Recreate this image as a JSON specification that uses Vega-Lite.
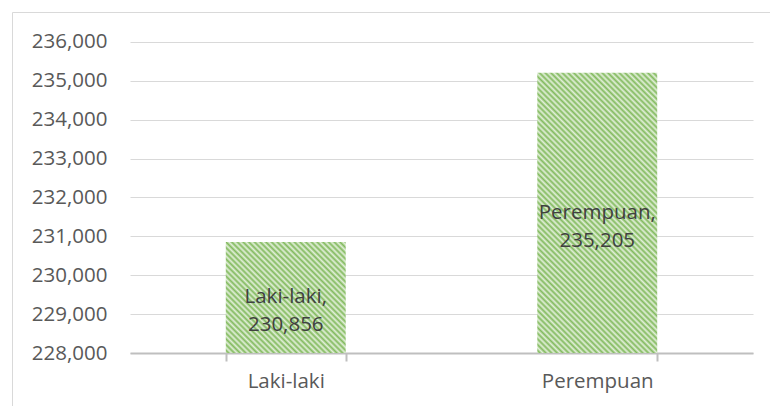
{
  "$schema": "https://vega.github.io/schema/vega-lite/v6.json",
  "autosize": "none",
  "width": 758,
  "height": 394,
  "padding": {"left": 12, "top": 12, "right": 0, "bottom": 0},
  "background": "white",
  "config": {"view": {"stroke": "#d9d9d9", "strokeWidth": 1}},
  "data": {"values": [
    {"jenis": "Laki-laki", "jumlah": 230856, "label": ["Laki-laki,", "230,856"]},
    {"jenis": "Perempuan", "jumlah": 235205, "label": ["Perempuan,", "235,205"]}
  ]},
  "encoding": {
    "x": {"field": "jenis", "type": "nominal", "sort": null,
      "scale": {"range": [118, 741], "paddingInner": 0.615, "paddingOuter": 0.3075},
      "axis": {"title": null, "labelAngle": 0, "offset": -53, "domainColor": "#bfbfbf", "domainWidth": 2,
        "tickColor": "#bfbfbf", "tickWidth": 2, "tickSize": 8, "tickBand": "extent", "labelPadding": 10,
        "labelFont": "Open Sans", "labelFontSize": 20.5, "labelColor": "#595959", "grid": false}},
    "y": {"field": "jumlah", "type": "quantitative",
      "scale": {"domain": [228000, 236000], "range": [341, 29.8], "nice": false, "zero": false},
      "axis": {"title": null, "values": [228000, 229000, 230000, 231000, 232000, 233000, 234000, 235000, 236000],
        "format": ",d", "offset": -118, "domain": false, "ticks": false, "labelPadding": 23,
        "gridColor": "#d9d9d9", "gridWidth": 1, "labelFont": "Open Sans", "labelFontSize": 20.5, "labelColor": "#595959"}}
  },
  "layer": [
    {
      "transform": [{"filter": "datum.jenis === 'Laki-laki'"}],
      "encoding": {"y2": {"datum": 228000}},
      "mark": {"type": "bar", "color": {"gradient": "linear", "x1": 0, "y1": 1, "x2": 1.28, "y2": -0.184, "stops": [
        {"offset":0,"color":"#e2efd9"},{"offset":0.01,"color":"#82ba5e"},{"offset":0.02,"color":"#e2efd9"},{"offset":0.03,"color":"#82ba5e"},{"offset":0.04,"color":"#e2efd9"},{"offset":0.05,"color":"#82ba5e"},{"offset":0.06,"color":"#e2efd9"},{"offset":0.07,"color":"#82ba5e"},{"offset":0.08,"color":"#e2efd9"},{"offset":0.09,"color":"#82ba5e"},
        {"offset":0.1,"color":"#e2efd9"},{"offset":0.11,"color":"#82ba5e"},{"offset":0.12,"color":"#e2efd9"},{"offset":0.13,"color":"#82ba5e"},{"offset":0.14,"color":"#e2efd9"},{"offset":0.15,"color":"#82ba5e"},{"offset":0.16,"color":"#e2efd9"},{"offset":0.17,"color":"#82ba5e"},{"offset":0.18,"color":"#e2efd9"},{"offset":0.19,"color":"#82ba5e"},
        {"offset":0.2,"color":"#e2efd9"},{"offset":0.21,"color":"#82ba5e"},{"offset":0.22,"color":"#e2efd9"},{"offset":0.23,"color":"#82ba5e"},{"offset":0.24,"color":"#e2efd9"},{"offset":0.25,"color":"#82ba5e"},{"offset":0.26,"color":"#e2efd9"},{"offset":0.27,"color":"#82ba5e"},{"offset":0.28,"color":"#e2efd9"},{"offset":0.29,"color":"#82ba5e"},
        {"offset":0.3,"color":"#e2efd9"},{"offset":0.31,"color":"#82ba5e"},{"offset":0.32,"color":"#e2efd9"},{"offset":0.33,"color":"#82ba5e"},{"offset":0.34,"color":"#e2efd9"},{"offset":0.35,"color":"#82ba5e"},{"offset":0.36,"color":"#e2efd9"},{"offset":0.37,"color":"#82ba5e"},{"offset":0.38,"color":"#e2efd9"},{"offset":0.39,"color":"#82ba5e"},
        {"offset":0.4,"color":"#e2efd9"},{"offset":0.41,"color":"#82ba5e"},{"offset":0.42,"color":"#e2efd9"},{"offset":0.43,"color":"#82ba5e"},{"offset":0.44,"color":"#e2efd9"},{"offset":0.45,"color":"#82ba5e"},{"offset":0.46,"color":"#e2efd9"},{"offset":0.47,"color":"#82ba5e"},{"offset":0.48,"color":"#e2efd9"},{"offset":0.49,"color":"#82ba5e"},
        {"offset":0.5,"color":"#e2efd9"},{"offset":0.51,"color":"#82ba5e"},{"offset":0.52,"color":"#e2efd9"},{"offset":0.53,"color":"#82ba5e"},{"offset":0.54,"color":"#e2efd9"},{"offset":0.55,"color":"#82ba5e"},{"offset":0.56,"color":"#e2efd9"},{"offset":0.57,"color":"#82ba5e"},{"offset":0.58,"color":"#e2efd9"},{"offset":0.59,"color":"#82ba5e"},
        {"offset":0.6,"color":"#e2efd9"},{"offset":0.61,"color":"#82ba5e"},{"offset":0.62,"color":"#e2efd9"},{"offset":0.63,"color":"#82ba5e"},{"offset":0.64,"color":"#e2efd9"},{"offset":0.65,"color":"#82ba5e"},{"offset":0.66,"color":"#e2efd9"},{"offset":0.67,"color":"#82ba5e"},{"offset":0.68,"color":"#e2efd9"},{"offset":0.69,"color":"#82ba5e"},
        {"offset":0.7,"color":"#e2efd9"},{"offset":0.71,"color":"#82ba5e"},{"offset":0.72,"color":"#e2efd9"},{"offset":0.73,"color":"#82ba5e"},{"offset":0.74,"color":"#e2efd9"},{"offset":0.75,"color":"#82ba5e"},{"offset":0.76,"color":"#e2efd9"},{"offset":0.77,"color":"#82ba5e"},{"offset":0.78,"color":"#e2efd9"},{"offset":0.79,"color":"#82ba5e"},
        {"offset":0.8,"color":"#e2efd9"},{"offset":0.81,"color":"#82ba5e"},{"offset":0.82,"color":"#e2efd9"},{"offset":0.83,"color":"#82ba5e"},{"offset":0.84,"color":"#e2efd9"},{"offset":0.85,"color":"#82ba5e"},{"offset":0.86,"color":"#e2efd9"},{"offset":0.87,"color":"#82ba5e"},{"offset":0.88,"color":"#e2efd9"},{"offset":0.89,"color":"#82ba5e"},
        {"offset":0.9,"color":"#e2efd9"},{"offset":0.91,"color":"#82ba5e"},{"offset":0.92,"color":"#e2efd9"},{"offset":0.93,"color":"#82ba5e"},{"offset":0.94,"color":"#e2efd9"},{"offset":0.95,"color":"#82ba5e"},{"offset":0.96,"color":"#e2efd9"},{"offset":0.97,"color":"#82ba5e"},{"offset":0.98,"color":"#e2efd9"},{"offset":0.99,"color":"#82ba5e"},
        {"offset":1,"color":"#e2efd9"}
      ]}}
    },
    {
      "transform": [{"filter": "datum.jenis === 'Perempuan'"}],
      "encoding": {"y2": {"datum": 228000}},
      "mark": {"type": "bar", "color": {"gradient": "linear", "x1": 0, "y1": 1, "x2": 0.737, "y2": -0.72, "stops": [
        {"offset":0,"color":"#e2efd9"},{"offset":0.005,"color":"#82ba5e"},{"offset":0.01,"color":"#e2efd9"},{"offset":0.015,"color":"#82ba5e"},{"offset":0.02,"color":"#e2efd9"},{"offset":0.025,"color":"#82ba5e"},{"offset":0.03,"color":"#e2efd9"},{"offset":0.035,"color":"#82ba5e"},{"offset":0.04,"color":"#e2efd9"},{"offset":0.045,"color":"#82ba5e"},
        {"offset":0.05,"color":"#e2efd9"},{"offset":0.055,"color":"#82ba5e"},{"offset":0.06,"color":"#e2efd9"},{"offset":0.065,"color":"#82ba5e"},{"offset":0.07,"color":"#e2efd9"},{"offset":0.075,"color":"#82ba5e"},{"offset":0.08,"color":"#e2efd9"},{"offset":0.085,"color":"#82ba5e"},{"offset":0.09,"color":"#e2efd9"},{"offset":0.095,"color":"#82ba5e"},
        {"offset":0.1,"color":"#e2efd9"},{"offset":0.105,"color":"#82ba5e"},{"offset":0.11,"color":"#e2efd9"},{"offset":0.115,"color":"#82ba5e"},{"offset":0.12,"color":"#e2efd9"},{"offset":0.125,"color":"#82ba5e"},{"offset":0.13,"color":"#e2efd9"},{"offset":0.135,"color":"#82ba5e"},{"offset":0.14,"color":"#e2efd9"},{"offset":0.145,"color":"#82ba5e"},
        {"offset":0.15,"color":"#e2efd9"},{"offset":0.155,"color":"#82ba5e"},{"offset":0.16,"color":"#e2efd9"},{"offset":0.165,"color":"#82ba5e"},{"offset":0.17,"color":"#e2efd9"},{"offset":0.175,"color":"#82ba5e"},{"offset":0.18,"color":"#e2efd9"},{"offset":0.185,"color":"#82ba5e"},{"offset":0.19,"color":"#e2efd9"},{"offset":0.195,"color":"#82ba5e"},
        {"offset":0.2,"color":"#e2efd9"},{"offset":0.205,"color":"#82ba5e"},{"offset":0.21,"color":"#e2efd9"},{"offset":0.215,"color":"#82ba5e"},{"offset":0.22,"color":"#e2efd9"},{"offset":0.225,"color":"#82ba5e"},{"offset":0.23,"color":"#e2efd9"},{"offset":0.235,"color":"#82ba5e"},{"offset":0.24,"color":"#e2efd9"},{"offset":0.245,"color":"#82ba5e"},
        {"offset":0.25,"color":"#e2efd9"},{"offset":0.255,"color":"#82ba5e"},{"offset":0.26,"color":"#e2efd9"},{"offset":0.265,"color":"#82ba5e"},{"offset":0.27,"color":"#e2efd9"},{"offset":0.275,"color":"#82ba5e"},{"offset":0.28,"color":"#e2efd9"},{"offset":0.285,"color":"#82ba5e"},{"offset":0.29,"color":"#e2efd9"},{"offset":0.295,"color":"#82ba5e"},
        {"offset":0.3,"color":"#e2efd9"},{"offset":0.305,"color":"#82ba5e"},{"offset":0.31,"color":"#e2efd9"},{"offset":0.315,"color":"#82ba5e"},{"offset":0.32,"color":"#e2efd9"},{"offset":0.325,"color":"#82ba5e"},{"offset":0.33,"color":"#e2efd9"},{"offset":0.335,"color":"#82ba5e"},{"offset":0.34,"color":"#e2efd9"},{"offset":0.345,"color":"#82ba5e"},
        {"offset":0.35,"color":"#e2efd9"},{"offset":0.355,"color":"#82ba5e"},{"offset":0.36,"color":"#e2efd9"},{"offset":0.365,"color":"#82ba5e"},{"offset":0.37,"color":"#e2efd9"},{"offset":0.375,"color":"#82ba5e"},{"offset":0.38,"color":"#e2efd9"},{"offset":0.385,"color":"#82ba5e"},{"offset":0.39,"color":"#e2efd9"},{"offset":0.395,"color":"#82ba5e"},
        {"offset":0.4,"color":"#e2efd9"},{"offset":0.405,"color":"#82ba5e"},{"offset":0.41,"color":"#e2efd9"},{"offset":0.415,"color":"#82ba5e"},{"offset":0.42,"color":"#e2efd9"},{"offset":0.425,"color":"#82ba5e"},{"offset":0.43,"color":"#e2efd9"},{"offset":0.435,"color":"#82ba5e"},{"offset":0.44,"color":"#e2efd9"},{"offset":0.445,"color":"#82ba5e"},
        {"offset":0.45,"color":"#e2efd9"},{"offset":0.455,"color":"#82ba5e"},{"offset":0.46,"color":"#e2efd9"},{"offset":0.465,"color":"#82ba5e"},{"offset":0.47,"color":"#e2efd9"},{"offset":0.475,"color":"#82ba5e"},{"offset":0.48,"color":"#e2efd9"},{"offset":0.485,"color":"#82ba5e"},{"offset":0.49,"color":"#e2efd9"},{"offset":0.495,"color":"#82ba5e"},
        {"offset":0.5,"color":"#e2efd9"},{"offset":0.505,"color":"#82ba5e"},{"offset":0.51,"color":"#e2efd9"},{"offset":0.515,"color":"#82ba5e"},{"offset":0.52,"color":"#e2efd9"},{"offset":0.525,"color":"#82ba5e"},{"offset":0.53,"color":"#e2efd9"},{"offset":0.535,"color":"#82ba5e"},{"offset":0.54,"color":"#e2efd9"},{"offset":0.545,"color":"#82ba5e"},
        {"offset":0.55,"color":"#e2efd9"},{"offset":0.555,"color":"#82ba5e"},{"offset":0.56,"color":"#e2efd9"},{"offset":0.565,"color":"#82ba5e"},{"offset":0.57,"color":"#e2efd9"},{"offset":0.575,"color":"#82ba5e"},{"offset":0.58,"color":"#e2efd9"},{"offset":0.585,"color":"#82ba5e"},{"offset":0.59,"color":"#e2efd9"},{"offset":0.595,"color":"#82ba5e"},
        {"offset":0.6,"color":"#e2efd9"},{"offset":0.605,"color":"#82ba5e"},{"offset":0.61,"color":"#e2efd9"},{"offset":0.615,"color":"#82ba5e"},{"offset":0.62,"color":"#e2efd9"},{"offset":0.625,"color":"#82ba5e"},{"offset":0.63,"color":"#e2efd9"},{"offset":0.635,"color":"#82ba5e"},{"offset":0.64,"color":"#e2efd9"},{"offset":0.645,"color":"#82ba5e"},
        {"offset":0.65,"color":"#e2efd9"},{"offset":0.655,"color":"#82ba5e"},{"offset":0.66,"color":"#e2efd9"},{"offset":0.665,"color":"#82ba5e"},{"offset":0.67,"color":"#e2efd9"},{"offset":0.675,"color":"#82ba5e"},{"offset":0.68,"color":"#e2efd9"},{"offset":0.685,"color":"#82ba5e"},{"offset":0.69,"color":"#e2efd9"},{"offset":0.695,"color":"#82ba5e"},
        {"offset":0.7,"color":"#e2efd9"},{"offset":0.705,"color":"#82ba5e"},{"offset":0.71,"color":"#e2efd9"},{"offset":0.715,"color":"#82ba5e"},{"offset":0.72,"color":"#e2efd9"},{"offset":0.725,"color":"#82ba5e"},{"offset":0.73,"color":"#e2efd9"},{"offset":0.735,"color":"#82ba5e"},{"offset":0.74,"color":"#e2efd9"},{"offset":0.745,"color":"#82ba5e"},
        {"offset":0.75,"color":"#e2efd9"},{"offset":0.755,"color":"#82ba5e"},{"offset":0.76,"color":"#e2efd9"},{"offset":0.765,"color":"#82ba5e"},{"offset":0.77,"color":"#e2efd9"},{"offset":0.775,"color":"#82ba5e"},{"offset":0.78,"color":"#e2efd9"},{"offset":0.785,"color":"#82ba5e"},{"offset":0.79,"color":"#e2efd9"},{"offset":0.795,"color":"#82ba5e"},
        {"offset":0.8,"color":"#e2efd9"},{"offset":0.805,"color":"#82ba5e"},{"offset":0.81,"color":"#e2efd9"},{"offset":0.815,"color":"#82ba5e"},{"offset":0.82,"color":"#e2efd9"},{"offset":0.825,"color":"#82ba5e"},{"offset":0.83,"color":"#e2efd9"},{"offset":0.835,"color":"#82ba5e"},{"offset":0.84,"color":"#e2efd9"},{"offset":0.845,"color":"#82ba5e"},
        {"offset":0.85,"color":"#e2efd9"},{"offset":0.855,"color":"#82ba5e"},{"offset":0.86,"color":"#e2efd9"},{"offset":0.865,"color":"#82ba5e"},{"offset":0.87,"color":"#e2efd9"},{"offset":0.875,"color":"#82ba5e"},{"offset":0.88,"color":"#e2efd9"},{"offset":0.885,"color":"#82ba5e"},{"offset":0.89,"color":"#e2efd9"},{"offset":0.895,"color":"#82ba5e"},
        {"offset":0.9,"color":"#e2efd9"},{"offset":0.905,"color":"#82ba5e"},{"offset":0.91,"color":"#e2efd9"},{"offset":0.915,"color":"#82ba5e"},{"offset":0.92,"color":"#e2efd9"},{"offset":0.925,"color":"#82ba5e"},{"offset":0.93,"color":"#e2efd9"},{"offset":0.935,"color":"#82ba5e"},{"offset":0.94,"color":"#e2efd9"},{"offset":0.945,"color":"#82ba5e"},
        {"offset":0.95,"color":"#e2efd9"},{"offset":0.955,"color":"#82ba5e"},{"offset":0.96,"color":"#e2efd9"},{"offset":0.965,"color":"#82ba5e"},{"offset":0.97,"color":"#e2efd9"},{"offset":0.975,"color":"#82ba5e"},{"offset":0.98,"color":"#e2efd9"},{"offset":0.985,"color":"#82ba5e"},{"offset":0.99,"color":"#e2efd9"},{"offset":0.995,"color":"#82ba5e"},
        {"offset":1,"color":"#e2efd9"}
      ]}}
    },
    {
      "transform": [{"calculate": "(datum.jumlah + 228000) / 2", "as": "tengah"}],
      "mark": {"type": "text", "font": "Open Sans", "fontSize": 20.5, "color": "#404040", "lineHeight": 28, "baseline": "middle", "align": "center"},
      "encoding": {
        "y": {"field": "tengah", "type": "quantitative",
          "axis": {"title": null, "values": [228000, 229000, 230000, 231000, 232000, 233000, 234000, 235000, 236000],
            "format": ",d", "offset": -118, "domain": false, "ticks": false, "labelPadding": 23,
            "gridColor": "#d9d9d9", "gridWidth": 1, "labelFont": "Open Sans", "labelFontSize": 20.5, "labelColor": "#595959"}},
        "text": {"field": "label"}
      }
    }
  ]
}
